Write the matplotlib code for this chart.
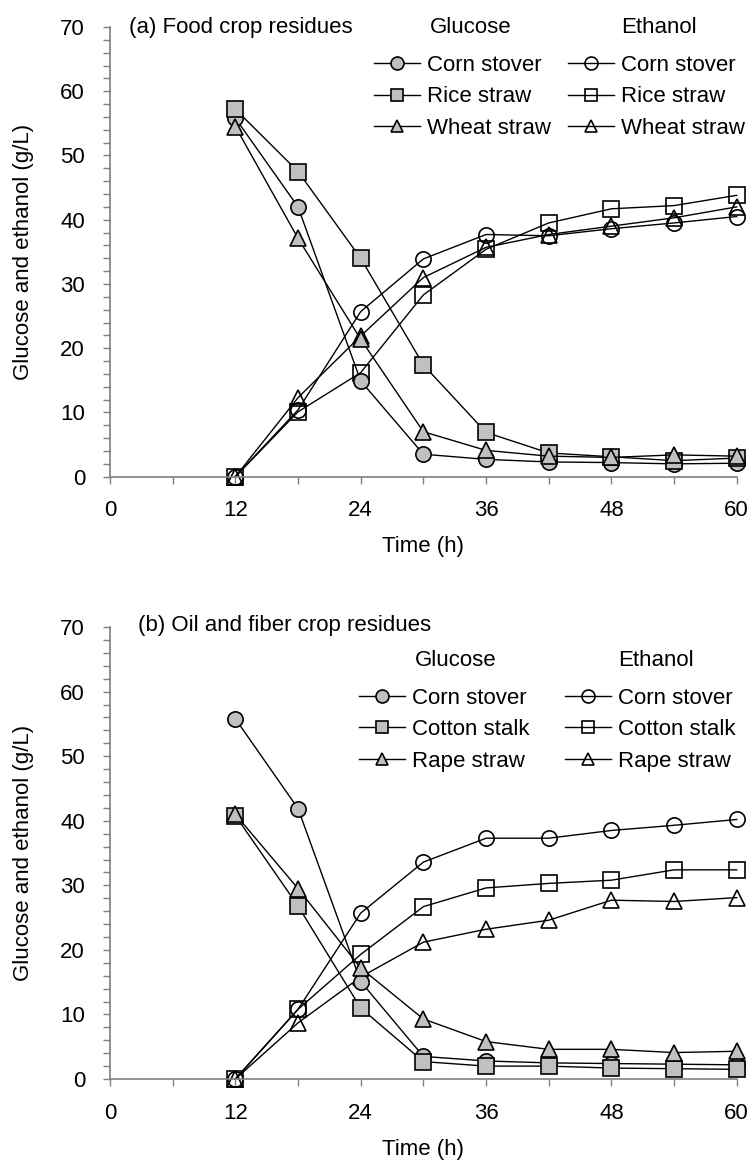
import matplotlib
matplotlib.use("Agg")
import matplotlib.pyplot as plt
from matplotlib.lines import Line2D
from matplotlib.ticker import MultipleLocator

plt.rcParams['font.family'] = ['Liberation Sans', 'DejaVu Sans']

time_h = [12, 18, 24, 30, 36, 42, 48, 54, 60]

# (a) food crop residues
glc_corn_a = [55.8, 42.0, 14.9, 3.5, 2.7, 2.3, 2.2, 2.0, 2.1]
glc_rice_a = [57.2, 47.5, 34.0, 17.4, 6.9, 3.7, 3.1, 2.5, 2.9]
glc_wheat_a = [54.5, 37.1, 21.4, 7.0, 4.1, 3.2, 3.0, 3.4, 3.2]
eth_corn_a = [0, 10.4, 25.7, 33.9, 37.7, 37.5, 38.6, 39.5, 40.5]
eth_rice_a = [0, 10.1, 16.2, 28.3, 35.4, 39.5, 41.7, 42.2, 43.8]
eth_wheat_a = [0, 12.3, 21.9, 31.0, 35.7, 37.7, 39.0, 40.3, 42.0]
names_a = ['Corn stover', 'Rice straw', 'Wheat straw']

# (b) oil and fiber crop residues
glc_corn_b = [55.8, 41.9, 15.1, 3.5, 2.8, 2.5, 2.4, 2.3, 2.2]
glc_cotton_b = [40.8, 26.8, 11.0, 2.7, 2.0, 2.0, 1.7, 1.6, 1.5]
glc_rape_b = [41.0, 29.5, 17.2, 9.3, 5.8, 4.6, 4.6, 4.1, 4.3]
eth_corn_b = [0, 10.8, 25.7, 33.6, 37.3, 37.3, 38.5, 39.3, 40.2]
eth_cotton_b = [0, 10.8, 19.3, 26.7, 29.6, 30.3, 30.8, 32.4, 32.4]
eth_rape_b = [0, 8.7, 15.8, 21.2, 23.2, 24.6, 27.7, 27.5, 28.1]
names_b = ['Corn stover', 'Cotton stalk', 'Rape straw']

markers = ['o', 's', '^']
FS = 16
GREY = '#c0c0c0'
AXC = '#7f7f7f'


def draw_panel(ax, glc, eth, names, title, title_x, leg):
    for m, y in zip(markers, eth):
        ax.plot(time_h, y, color='black', lw=1.0, marker=m, ms=11,
                mfc='none', mec='black', mew=1.2, clip_on=False)
    for m, y in zip(markers, glc):
        ax.plot(time_h, y, color='black', lw=1.0, marker=m, ms=11,
                mfc=GREY, mec='black', mew=1.2, clip_on=False)

    ax.set_xlim(0, 60)
    ax.set_ylim(0, 70)
    ax.xaxis.set_major_locator(MultipleLocator(12))
    ax.xaxis.set_minor_locator(MultipleLocator(6))
    ax.yaxis.set_major_locator(MultipleLocator(10))
    ax.yaxis.set_minor_locator(MultipleLocator(2))
    for s in ['top', 'right']:
        ax.spines[s].set_visible(False)
    for s in ['left', 'bottom']:
        ax.spines[s].set_color(AXC)
        ax.spines[s].set_linewidth(1.2)
    ax.tick_params(which='both', direction='out', length=5, width=1.0,
                   color=AXC, labelsize=FS)
    ax.tick_params(axis='x', which='both', pad=12)
    ax.tick_params(axis='y', which='both', pad=13)

    ax.set_xlabel('Time (h)', fontsize=FS)
    ax.set_ylabel('Glucose and ethanol (g/L)', fontsize=FS)
    ax.xaxis.set_label_coords(0.5, -0.132)
    ax.yaxis.set_label_coords(-0.122, 0.5)

    ax.text(title_x, leg['title_y'], title, transform=ax.transAxes,
            fontsize=FS, va='center', ha='left')

    # two legend columns, one for each compound
    h_glc = [Line2D([], [], color='black', lw=1.0, marker=m, ms=11,
                    mfc=GREY, mec='black', mew=1.2) for m in markers]
    h_eth = [Line2D([], [], color='black', lw=1.0, marker=m, ms=11,
                    mfc='none', mec='black', mew=1.2) for m in markers]
    kw = dict(loc='upper left', frameon=False, fontsize=FS, borderpad=0,
              borderaxespad=0, handlelength=2.07, handletextpad=0.32,
              labelspacing=0.47, markerscale=0.85)
    l1 = ax.legend(h_glc, names, bbox_to_anchor=(leg['x1'], leg['y']), **kw)
    ax.add_artist(l1)
    ax.legend(h_eth, names, bbox_to_anchor=(leg['x2'], leg['y']), **kw)
    ax.text(leg['hx1'], leg['hy'], 'Glucose', transform=ax.transAxes,
            fontsize=FS, va='center', ha='left')
    ax.text(leg['hx2'], leg['hy'], 'Ethanol', transform=ax.transAxes,
            fontsize=FS, va='center', ha='left')


fig = plt.figure(figsize=(7.54, 11.63), dpi=100)
ax_a = fig.add_axes([0.1459, 0.5901, 0.8312, 0.3867])
ax_b = fig.add_axes([0.1459, 0.0722, 0.8312, 0.3886])

draw_panel(ax_a, [glc_corn_a, glc_rice_a, glc_wheat_a],
           [eth_corn_a, eth_rice_a, eth_wheat_a], names_a,
           '(a) Food crop residues', 0.030,
           dict(x1=0.421, x2=0.731, y=0.938, hx1=0.510, hx2=0.815,
                hy=0.999, title_y=0.999))
draw_panel(ax_b, [glc_corn_b, glc_cotton_b, glc_rape_b],
           [eth_corn_b, eth_cotton_b, eth_rape_b], names_b,
           '(b) Oil and fiber crop residues', 0.045,
           dict(x1=0.397, x2=0.726, y=0.866, hx1=0.486, hx2=0.81,
                hy=0.927, title_y=1.004))

fig.savefig('out.png', dpi=100)
